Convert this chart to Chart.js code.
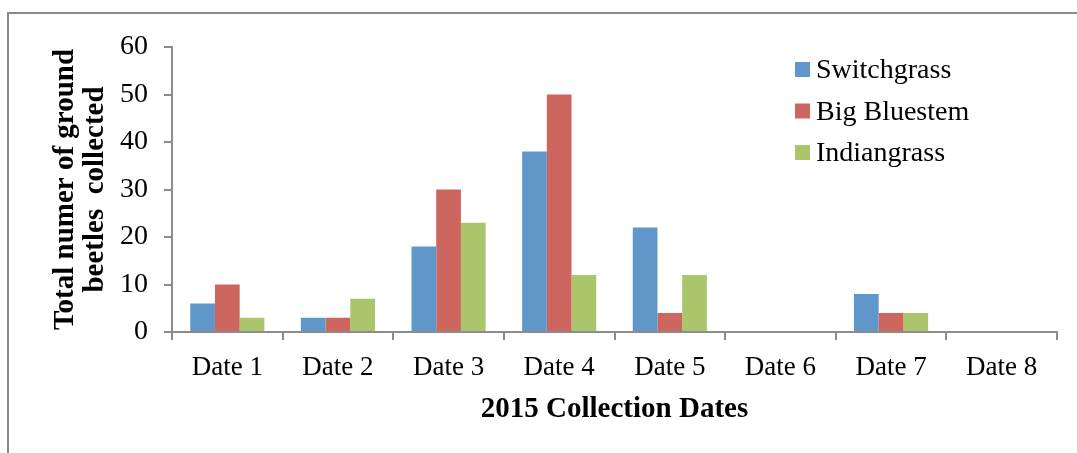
<!DOCTYPE html>
<html>
<head>
<meta charset="utf-8">
<script src="https://cdn.jsdelivr.net/npm/chart.js@4"></script>
<style>
  html, body { margin: 0; padding: 0; background: #fff; overflow: hidden; }
  #wrap { width: 1077px; height: 453px; position: relative; }
</style>
</head>
<body>
<div id="wrap"><canvas id="chart" width="1077" height="453"></canvas></div>
<script>
// chart data
const categories = ['Date 1', 'Date 2', 'Date 3', 'Date 4', 'Date 5', 'Date 6', 'Date 7', 'Date 8'];
const switchgrass = [6, 3, 18, 38, 22, 0, 8, 0];
const bigBluestem = [10, 3, 30, 50, 4, 0, 4, 0];
const indiangrass = [3, 7, 23, 12, 12, 0, 4, 0];
const yTicks = [0, 10, 20, 30, 40, 50, 60];

const serif = '"Liberation Serif", "Times New Roman", serif';
const axisGray = '#8c8c8c';

// outer frame like the excel chart border
const framePlugin = {
    id: 'frame',
    beforeDraw(chart) {
        const ctx = chart.ctx;
        ctx.save();
        ctx.strokeStyle = '#8a8a8a';
        ctx.lineWidth = 2;
        ctx.beginPath();
        ctx.moveTo(8, 460);
        ctx.lineTo(8, 13);
        ctx.lineTo(1090, 13);
        ctx.stroke();
        ctx.restore();
    }
};

// legend drawn inside the plot area, top right
const legendPlugin = {
    id: 'insideLegend',
    afterDraw(chart) {
        const ctx = chart.ctx;
        ctx.save();
        ctx.font = '28px ' + serif;
        ctx.textBaseline = 'middle';
        chart.data.datasets.forEach((ds, i) => {
            const y = 70 + i * 41.5;
            ctx.fillStyle = ds.backgroundColor;
            ctx.fillRect(795, y - 8, 15, 15);
            ctx.fillStyle = '#000';
            ctx.fillText(ds.label, 816, y + 1);
        });
        ctx.restore();
    }
};

new Chart(document.getElementById('chart'), {
    type: 'bar',
    data: {
        labels: categories,
        datasets: [
            { label: 'Switchgrass', data: switchgrass, backgroundColor: '#6097cb' },
            { label: 'Big Bluestem', data: bigBluestem, backgroundColor: '#cd665f' },
            { label: 'Indiangrass', data: indiangrass, backgroundColor: '#abc56b' }
        ]
    },
    options: {
        responsive: false,
        animation: false,
        layout: { padding: { left: 0, top: 47, right: 20, bottom: 0 } },
        datasets: {
            bar: { categoryPercentage: 0.67, barPercentage: 1.0 }
        },
        plugins: {
            legend: { display: false },
            tooltip: { enabled: false }
        },
        scales: {
            x: {
                grid: { display: true, drawOnChartArea: false, color: axisGray, lineWidth: 2, tickLength: 8, offset: true },
                border: { color: axisGray, width: 2 },
                ticks: { color: '#000', font: { family: serif, size: 27 }, padding: 12, maxRotation: 0 },
                title: {
                    display: true,
                    text: '2015 Collection Dates',
                    color: '#000',
                    font: { family: serif, size: 29, weight: 'bold' },
                    padding: { top: 0, bottom: 26 }
                },
                afterFit(scale) { scale.height = 121; }
            },
            y: {
                min: 0,
                max: 60,
                afterBuildTicks(scale) { scale.ticks = yTicks.map(v => ({ value: v })); },
                grid: { display: true, drawOnChartArea: false, color: axisGray, lineWidth: 2, tickLength: 8 },
                border: { color: axisGray, width: 2 },
                ticks: { color: '#000', font: { family: serif, size: 28 }, padding: 16 },
                title: {
                    display: true,
                    text: ['Total numer of ground', 'beetles  collected'],
                    color: '#000',
                    font: { family: serif, size: 29, weight: 'bold', lineHeight: 1.05 },
                    padding: { top: 50, bottom: 0 }
                },
                afterFit(scale) { scale.width = 172; }
            }
        }
    },
    plugins: [framePlugin, legendPlugin]
});
</script>
</body>
</html>
